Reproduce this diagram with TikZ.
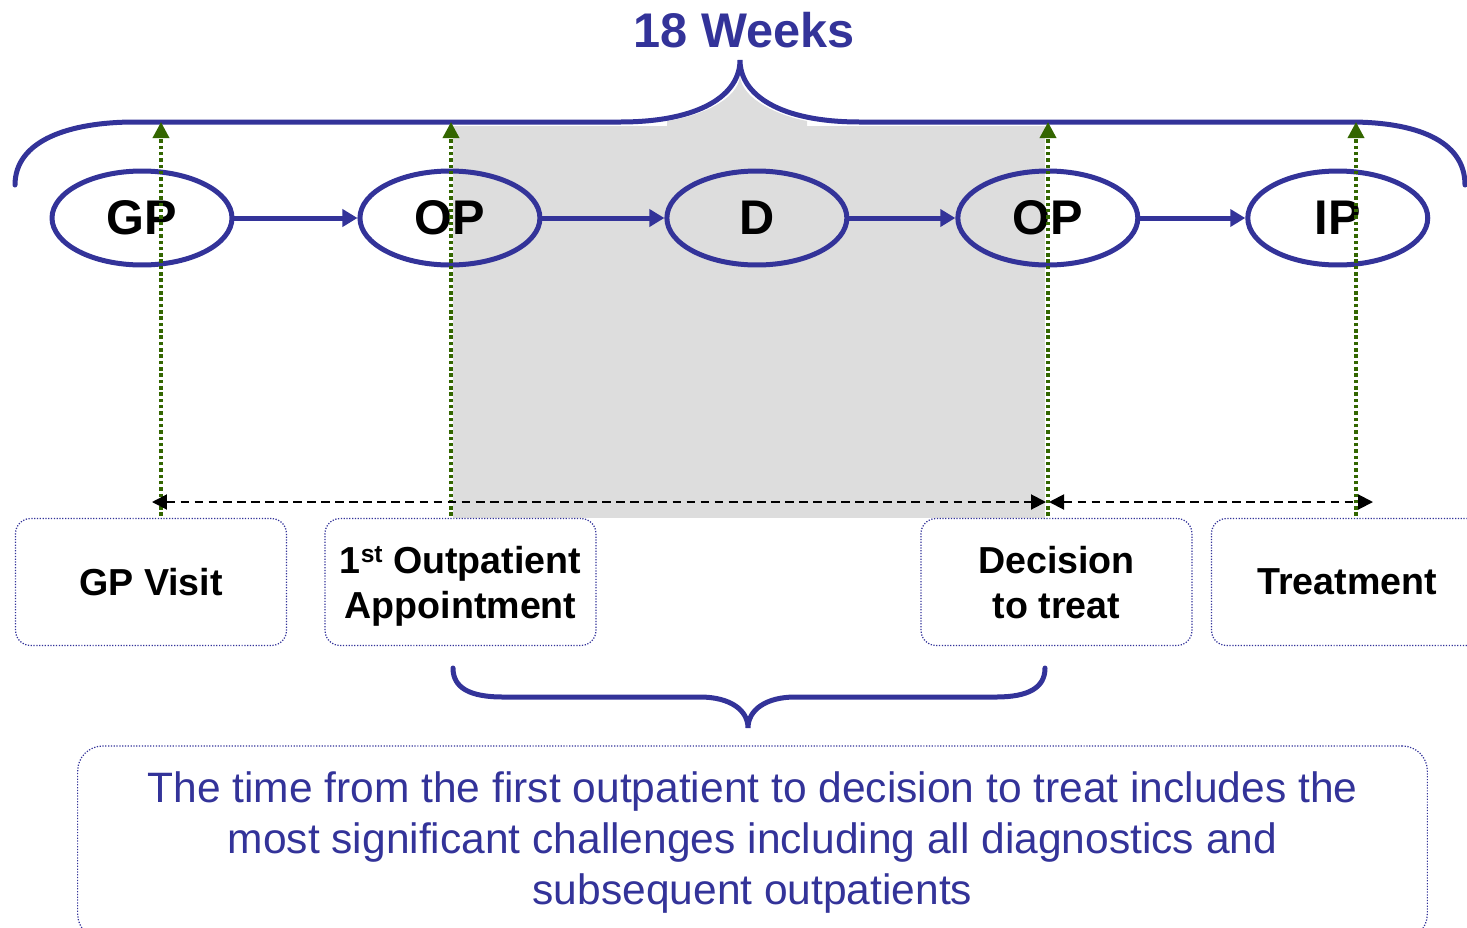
\documentclass[tikz,border=0pt]{standalone}
\usepackage{fontspec}
\setmainfont{Liberation Sans}
\usetikzlibrary{shapes.geometric, arrows.meta, positioning}
\definecolor{nhsblue}{RGB}{51,51,153}
\definecolor{markgreen}{RGB}{51,102,0}
\definecolor{panelgray}{RGB}{221,221,221}

\begin{document}
\begin{tikzpicture}[x=0.02cm, y=-0.02cm, node distance=6cm]

        % Define styles for each type of node
        \tikzstyle{stage} = [ellipse, minimum width=3.6cm, minimum height=1.88cm, inner sep=0pt, draw=nhsblue, line width=0.1cm, font=\fontsize{27.7}{33}\selectfont\bfseries]
        \tikzstyle{milestone} = [rectangle, rounded corners=0.3cm, minimum width=5.42cm, minimum height=2.54cm, text depth=0pt, draw=nhsblue, line width=0.7pt, dash pattern=on 0.7pt off 0.9pt, align=center, font=\fontsize{21.4}{25.5}\selectfont\bfseries]
        \tikzstyle{summary} = [rectangle, rounded corners=0.5cm, minimum width=27cm, minimum height=3.86cm, draw=nhsblue, line width=0.7pt, dash pattern=on 0.7pt off 0.9pt, align=center, text=nhsblue, font=\fontsize{24.2}{28.9}\selectfont]
        \tikzstyle{brace} = [draw=nhsblue, line width=0.1cm, line cap=round]

        % Define arrow styles
        \tikzstyle{flow} = [nhsblue, line width=0.1cm, -{Triangle[length=0.3cm, width=0.34cm]}]
        \tikzstyle{marker} = [markgreen, line width=0.07cm, dash pattern=on 2pt off 1.6pt, -{Triangle[length=0.32cm, width=0.32cm]}]
        \tikzstyle{span} = [black, line width=0.04cm, dash pattern=on 5pt off 3pt, {Triangle[length=0.3cm, width=0.3cm]}-{Triangle[length=0.3cm, width=0.3cm]}]

        \useasboundingbox (0,0) rectangle (1467,927);

        % Grey period between first outpatient and decision
        \fill[panelgray] (453,126) rectangle (1045,518);
        \fill[panelgray] (667,126) -- (667,121) .. controls (700,116) and (738,100) .. (740,76) .. controls (742,100) and (780,116) .. (807,121) -- (807,126) -- cycle;

        % Braces
        \draw[brace] (15,185) .. controls (15,140) and (70,122) .. (135,122) -- (620,122) .. controls (700,122) and (740,95) .. (740,60) .. controls (740,95) and (780,122) .. (860,122) -- (1350,122) .. controls (1415,122) and (1465,140) .. (1465,185);
        \draw[brace] (453,668) .. controls (453,688) and (470,697) .. (503,697) -- (700,697) .. controls (730,697) and (748,710) .. (748,728) .. controls (748,710) and (766,697) .. (795,697) -- (996,697) .. controls (1028,697) and (1045,688) .. (1045,668);

        \node (title) at (744,30) [text=nhsblue, font=\fontsize{27.7}{33}\selectfont\bfseries] {18 Weeks};

        % Pathway stages
        \node (gp) at (142,218) [stage] {GP};
        \node (opFirst) [stage, right of=gp, xshift=0.16cm] {OP};
        \node (diag) [stage, right of=opFirst, xshift=0.14cm] {D};
        \node (opSecond) [stage, right of=diag, xshift=-0.18cm] {OP};
        \node (ip) [stage, right of=opSecond, xshift=-0.2cm] {IP};

        \draw [flow] (gp) -- (opFirst);
        \draw [flow] (opFirst) -- (diag);
        \draw [flow] (diag) -- (opSecond);
        \draw [flow] (opSecond) -- (ip);

        % Markers up to the 18 week brace
        \coordinate (gpFoot) at (161,516);
        \coordinate (gpTop) at (161,122);
        \coordinate (opFirstFoot) at (451,516);
        \coordinate (opFirstTop) at (451,122);
        \coordinate (opSecondFoot) at (1048,516);
        \coordinate (opSecondTop) at (1048,122);
        \coordinate (ipFoot) at (1356,516);
        \coordinate (ipTop) at (1356,122);

        \draw [marker] (gpFoot) -- (gpTop);
        \draw [marker] (opFirstFoot) -- (opFirstTop);
        \draw [marker] (opSecondFoot) -- (opSecondTop);
        \draw [marker] (ipFoot) -- (ipTop);

        % Time spans
        \coordinate (spanStart) at (152,502);
        \coordinate (spanSplitL) at (1046,502);
        \coordinate (spanSplitR) at (1049,502);
        \coordinate (spanEnd) at (1373,502);
        \draw [span] (spanStart) -- (spanSplitL);
        \draw [span] (spanSplitR) -- (spanEnd);

        % Milestones
        \node (gpVisit) at (151,582) [milestone] {GP Visit};
        \node (firstOp) at (460.5,582) [milestone] {1\smash{\raisebox{0.55ex}{\fontsize{14}{14}\selectfont st}} Outpatient\\Appointment};
        \node (decision) at (1056.5,582) [milestone] {Decision\\to treat};
        \node (treatment) at (1347,582) [milestone] {Treatment};

        \node (note) at (752.5,842.5) [summary] {The time from the first outpatient to decision to treat includes the\\most significant challenges including all diagnostics and\\subsequent outpatients};

\end{tikzpicture}
\end{document}
